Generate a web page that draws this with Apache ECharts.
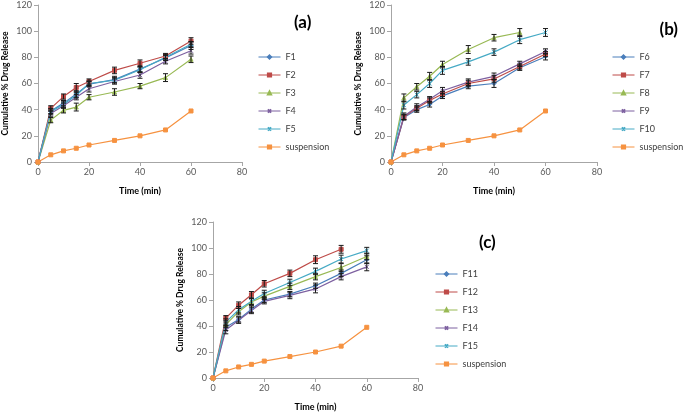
<!DOCTYPE html>
<html>
<head>
<meta charset="utf-8">
<script src="https://cdn.jsdelivr.net/npm/echarts@6/dist/echarts.min.js"></script>
<style>
  html, body { margin: 0; padding: 0; background: #fff; }
  #chart { width: 685px; height: 413px; }
</style>
</head>
<body>
<div id="chart"></div>
<script>
// sampling times (min)
var times = [0, 5, 10, 15, 20, 30, 40, 50, 60];

// reference suspension, same on every panel
var suspension = [0, 5.5, 8.5, 10.5, 13, 16.5, 20, 24.5, 39];
var suspensionErr = [0, 0.5, 0.5, 0.5, 0.5, 0.5, 0.5, 0.5, 1];

// panel (a)
var f1 = [0, 39, 45, 52, 59.5, 63, 71, 79.5, 89];
var f2 = [0, 41, 50, 57, 61.5, 70, 75.5, 81, 92.5];
var f3 = [0, 32, 39.5, 42, 49.5, 53.5, 58, 64.5, 78.5];
var f4 = [0, 37, 43, 49.5, 56, 61.5, 66.5, 77, 85];
var f5 = [0, 38.5, 44, 51, 60, 62.5, 70.5, 80, 90];
var f1Err = [0, 2, 2, 2.5, 2, 2.5, 2.5, 2, 3];
var f2Err = [0, 2, 2, 3, 2, 2.5, 2.5, 2, 2.5];
var f3Err = [0, 2, 2, 3, 2, 2.5, 2, 3, 2.5];
var f4Err = [0, 2, 2, 2, 2.5, 2, 2.5, 2, 2.5];
var f5Err = [0, 2, 2, 2, 2, 2, 2, 2, 2];

// panel (b)
var f6 = [0, 34, 40, 44, 50.5, 58, 60, 72, 80.5];
var f7 = [0, 34.5, 41, 47, 52, 60, 63.5, 73, 82.5];
var f8 = [0, 49, 57.5, 65.5, 74.5, 86, 95, 99, null];
var f9 = [0, 35, 42, 48, 54.5, 61, 65.5, 75, 84.5];
var f10 = [0, 43.5, 51.5, 60, 70, 76.5, 84, 93.5, 99];
var f6Err = [0, 2, 2, 2, 2, 2, 3, 2, 2.5];
var f7Err = [0, 2, 2, 2, 2, 2.5, 2.5, 2, 2];
var f8Err = [0, 3, 2.5, 3, 2.5, 3, 2.5, 3, 0];
var f9Err = [0, 2.5, 2.5, 2, 2.5, 2.5, 2.5, 2, 2];
var f10Err = [0, 3, 2.5, 3, 3, 2.5, 2.5, 3, 3];

// panel (c)
var f11 = [0, 39, 45, 53, 60, 64.5, 71, 80.5, 91];
var f12 = [0, 46, 56, 64, 72.5, 80.5, 91, 99, null];
var f13 = [0, 41, 51, 58.5, 63, 70.5, 78, 85, 93.5];
var f14 = [0, 37, 44.5, 52, 59, 63.5, 68.5, 78, 85.5];
var f15 = [0, 43, 52.5, 59, 65, 73.5, 82, 91.5, 98];
var f11Err = [0, 2.5, 2, 2.5, 2, 2, 2, 2.5, 3];
var f12Err = [0, 2, 2.5, 2.5, 2.5, 2.5, 3, 3, 0];
var f13Err = [0, 2, 2.5, 2.5, 2.5, 2.5, 2.5, 3, 2.5];
var f14Err = [0, 3, 2.5, 2.5, 2, 2.5, 3, 2.5, 3];
var f15Err = [0, 2.5, 2.5, 2.5, 2.5, 2.5, 2.5, 3, 2.5];

var xTicks = [0, 20, 40, 60, 80];
var yTicks = [0, 20, 40, 60, 80, 100, 120];
var panelTitles = ['(a)', '(b)', '(c)'];

var colors = ['#4A7EBB', '#BE4B48', '#98B954', '#7D60A0', '#46AAC5', '#F69240'];
var markers = [
  'diamond',
  'rect',
  'triangle',
  'path://M0,0L10,10M10,0L0,10',
  'path://M0,0L10,10M10,0L0,10M5,0L5,10',
  'rect'
];

var panels = [
  { names: ['F1', 'F2', 'F3', 'F4', 'F5', 'suspension'],
    values: [f1, f2, f3, f4, f5, suspension],
    errs: [f1Err, f2Err, f3Err, f4Err, f5Err, suspensionErr],
    grid: { left: 37, top: 5, width: 205, height: 157 },
    legend: { left: 253, top: 47 },
    title: { left: 289, top: 9 } },
  { names: ['F6', 'F7', 'F8', 'F9', 'F10', 'suspension'],
    values: [f6, f7, f8, f9, f10, suspension],
    errs: [f6Err, f7Err, f8Err, f9Err, f10Err, suspensionErr],
    grid: { left: 391, top: 5, width: 206, height: 157 },
    legend: { left: 607, top: 47 },
    title: { right: 2, top: 16 } },
  { names: ['F11', 'F12', 'F13', 'F14', 'F15', 'suspension'],
    values: [f11, f12, f13, f14, f15, suspension],
    errs: [f11Err, f12Err, f13Err, f14Err, f15Err, suspensionErr],
    grid: { left: 213, top: 222, width: 205, height: 158 },
    legend: { left: 430, top: 264 },
    title: { left: 474, top: 229 } }
];

function renderErr(params, api) {
  var x = api.value(0), y = api.value(1), e = api.value(2);
  if (!e) return null;
  var top = api.coord([x, y + e]);
  var bot = api.coord([x, y - e]);
  var hw = 2.5;
  var st = { stroke: '#1a1a1a', lineWidth: 1 };
  return {
    type: 'group',
    children: [
      { type: 'line', shape: { x1: top[0], y1: top[1], x2: bot[0], y2: bot[1] }, style: st },
      { type: 'line', shape: { x1: top[0] - hw, y1: top[1], x2: top[0] + hw, y2: top[1] }, style: st },
      { type: 'line', shape: { x1: bot[0] - hw, y1: bot[1], x2: bot[0] + hw, y2: bot[1] }, style: st }
    ]
  };
}

var font = 'Lato, "Open Sans", sans-serif';
var grids = [], xAxes = [], yAxes = [], legends = [], titles = [], series = [];

panels.forEach(function(p, k) {
  grids.push(p.grid);
  xAxes.push({
    type: 'value', gridIndex: k, min: xTicks[0], max: xTicks[xTicks.length - 1], interval: 20,
    name: 'Time (min)', nameLocation: 'middle', nameGap: 25,
    nameTextStyle: { fontFamily: font, fontWeight: 'bold', fontSize: 9, color: '#000' },
    axisLine: { lineStyle: { color: '#A6A6A6' } },
    axisTick: { length: 4, lineStyle: { color: '#A6A6A6' } },
    axisLabel: { fontFamily: font, fontSize: 9, color: '#595959', margin: 6 },
    splitLine: { show: false }
  });
  yAxes.push({
    type: 'value', gridIndex: k, min: yTicks[0], max: yTicks[yTicks.length - 1], interval: 20,
    name: 'Cumulative % Drug Release', nameLocation: 'middle', nameGap: 28, nameRotate: 90,
    nameTextStyle: { fontFamily: font, fontWeight: 'bold', fontSize: 8.5, color: '#000' },
    axisLine: { show: true, lineStyle: { color: '#A6A6A6' } },
    axisTick: { show: true, length: 4, lineStyle: { color: '#A6A6A6' } },
    axisLabel: { fontFamily: font, fontSize: 9, color: '#595959', margin: 6 },
    splitLine: { show: false }
  });
  legends.push({
    orient: 'vertical', left: p.legend.left, top: p.legend.top,
    itemWidth: 22, itemHeight: 4, itemGap: 8,
    lineStyle: { width: 1 },
    data: p.names,
    textStyle: { fontFamily: font, fontSize: 9, color: '#404040', lineHeight: 10 }
  });
  var tt = {
    text: panelTitles[k], top: p.title.top,
    textStyle: { fontFamily: font, fontWeight: 'bold', fontSize: 17, color: '#000' }
  };
  if (p.title.right !== undefined) tt.right = p.title.right; else tt.left = p.title.left;
  titles.push(tt);
  p.names.forEach(function(nm, i) {
    var pts = [], errPts = [];
    times.forEach(function(t, j) {
      if (p.values[i][j] === null) return;
      pts.push([t, p.values[i][j]]);
      errPts.push([t, p.values[i][j], p.errs[i][j]]);
    });
    series.push({
      type: 'line', name: nm, xAxisIndex: k, yAxisIndex: k, data: pts,
      symbol: markers[i], symbolSize: 4, showAllSymbol: true,
      lineStyle: { color: colors[i], width: 1.2 },
      itemStyle: { color: colors[i], borderColor: colors[i], borderWidth: 1 },
      z: 2, animation: false
    });
    if (nm !== 'suspension') {
      series.push({
        type: 'custom', name: 'err ' + nm, xAxisIndex: k, yAxisIndex: k,
        data: errPts, encode: { x: 0, y: 1 }, renderItem: renderErr,
        z: 3, animation: false, silent: true
      });
    }
  });
});

var chart = echarts.init(document.getElementById('chart'));
chart.setOption({
  backgroundColor: '#fff',
  animation: false,
  grid: grids,
  xAxis: xAxes,
  yAxis: yAxes,
  legend: legends,
  title: titles,
  series: series
});
</script>
</body>
</html>
